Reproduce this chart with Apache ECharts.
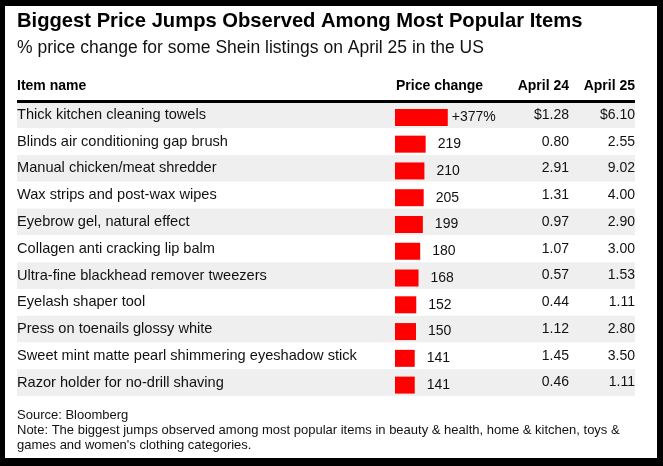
<!DOCTYPE html>
<html><head><meta charset="utf-8">
<script src="https://cdn.jsdelivr.net/npm/echarts@6/dist/echarts.min.js"></script>
<style>
html,body{margin:0;padding:0;background:#000;width:663px;height:466px;overflow:hidden;}
#c{position:absolute;left:5px;top:6px;width:652px;height:452px;background:#fff;}
</style></head>
<body><div id="c"></div>
<script>
const items = [
  "Thick kitchen cleaning towels",
  "Blinds air conditioning gap brush",
  "Manual chicken/meat shredder",
  "Wax strips and post-wax wipes",
  "Eyebrow gel, natural effect",
  "Collagen anti cracking lip balm",
  "Ultra-fine blackhead remover tweezers",
  "Eyelash shaper tool",
  "Press on toenails glossy white",
  "Sweet mint matte pearl shimmering eyeshadow stick",
  "Razor holder for no-drill shaving"
];
const priceChange = [377, 219, 210, 205, 199, 180, 168, 152, 150, 141, 141];
const april24 = ["$1.28", "0.80", "2.91", "1.31", "0.97", "1.07", "0.57", "0.44", "1.12", "1.45", "0.46"];
const april25 = ["$6.10", "2.55", "9.02", "4.00", "2.90", "3.00", "1.53", "1.11", "2.80", "3.50", "1.11"];
const headers = ["Item name", "Price change", "April 24", "April 25"];
const titleText = "Biggest Price Jumps Observed Among Most Popular Items";
const subtitleText = "% price change for some Shein listings on April 25 in the US";
const sourceText = "Source: Bloomberg";
const noteLines = ["Note: The biggest jumps observed among most popular items in beauty & health, home & kitchen, toys &",
                   "games and women's clothing categories."];

const FONT = "'Liberation Sans', Arial, Helvetica, sans-serif";
const TXT = "#111";
const top0 = 95.5, rowsH = 294.5, L = 12, R = 630;

const chart = echarts.init(document.getElementById('c'), null, {renderer: 'canvas'});
const option = {
  animation: false,
  textStyle: {fontFamily: FONT},
  grid: [
    {left: L, width: R - L, top: top0, height: rowsH, containLabel: false},
    {left: 390, width: 56, top: top0 + 2.5, height: rowsH, containLabel: false}
  ],
  xAxis: [
    {gridIndex: 0, type: 'value', show: false, min: 0, max: 1},
    {gridIndex: 1, type: 'value', show: false, min: 0, max: 400}
  ],
  yAxis: [
    {gridIndex: 0, type: 'category', data: items, inverse: true, position: 'left',
     axisLine: {show: false}, axisTick: {show: false},
     splitArea: {show: true, areaStyle: {color: ['#efefef', '#ffffff']}},
     axisLabel: {inside: true, margin: 0, color: TXT, fontSize: 14.6, fontFamily: FONT}},
    {gridIndex: 0, type: 'category', data: april24, inverse: true, position: 'right', offset: -66,
     axisLine: {show: false}, axisTick: {show: false},
     axisLabel: {inside: true, margin: 0, color: TXT, fontSize: 14, fontFamily: FONT}},
    {gridIndex: 0, type: 'category', data: april25, inverse: true, position: 'right', offset: 0,
     axisLine: {show: false}, axisTick: {show: false},
     axisLabel: {inside: true, margin: 0, color: TXT, fontSize: 14, fontFamily: FONT}},
    {gridIndex: 1, type: 'category', data: items, inverse: true, show: false}
  ],
  series: [{
    type: 'bar', xAxisIndex: 1, yAxisIndex: 3, barWidth: 17,
    itemStyle: {color: '#ff0000'},
    data: priceChange.map((v, i) => ({value: v, label: {distance: i === 0 ? 4 : 12}})),
    label: {show: true, position: 'right', color: TXT, fontSize: 14, fontFamily: FONT,
      formatter: p => p.dataIndex === 0 ? '+' + p.value + '%' : String(p.value)}
  }],
  graphic: [
    {type: 'text', x: L, y: 15.7, z: 100, style: {text: titleText, font: `bold 20.2px ${FONT}`, fill: '#000', verticalAlign: 'middle'}},
    {type: 'text', x: L, y: 42.3, z: 100, style: {text: subtitleText, font: `17.5px ${FONT}`, fill: TXT, verticalAlign: 'middle'}},
    {type: 'text', x: L, y: 80, z: 100, style: {text: headers[0], font: `bold 14px ${FONT}`, fill: '#000', verticalAlign: 'middle', align: 'left'}},
    {type: 'text', x: 391, y: 80, z: 100, style: {text: headers[1], font: `bold 14px ${FONT}`, fill: '#000', verticalAlign: 'middle', align: 'left'}},
    {type: 'text', x: 564, y: 80, z: 100, style: {text: headers[2], font: `bold 14px ${FONT}`, fill: '#000', verticalAlign: 'middle', align: 'right'}},
    {type: 'text', x: R, y: 80, z: 100, style: {text: headers[3], font: `bold 14px ${FONT}`, fill: '#000', verticalAlign: 'middle', align: 'right'}},
    {type: 'rect', z: 100, shape: {x: L, y: 94, width: R - L, height: 3}, style: {fill: '#000'}},
    {type: 'text', x: L, y: 409.5, z: 100, style: {text: sourceText, font: `13px ${FONT}`, fill: TXT, verticalAlign: 'middle'}},
    {type: 'text', x: L, y: 424, z: 100, style: {text: noteLines[0], font: `13px ${FONT}`, fill: TXT, verticalAlign: 'middle'}},
    {type: 'text', x: L, y: 439.5, z: 100, style: {text: noteLines[1], font: `13px ${FONT}`, fill: TXT, verticalAlign: 'middle'}}
  ]
};
chart.setOption(option);
</script>
</body></html>
